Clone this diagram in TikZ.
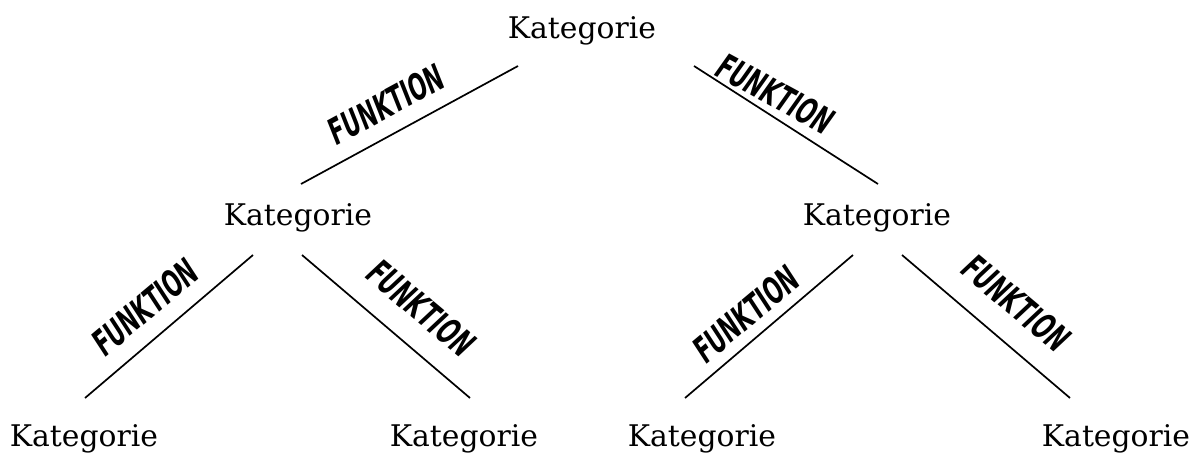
\documentclass[tikz,border=0pt]{standalone}
\usepackage{fontspec}
\setmainfont{DejaVu Serif}
\newfontfamily\funkfont{DejaVu Sans Bold}[FakeStretch=0.6,FakeSlant=0.12]
\begin{document}
\begin{tikzpicture}[x=1pt,y=-1pt,
  kat/.style={anchor=base,inner sep=0pt,font=\fontsize{29.8}{34}\selectfont},
  fun/.style={inner sep=0pt,font=\funkfont\fontsize{36}{38}\selectfont},
  conn/.style={line width=1.7pt}]
\useasboundingbox (0,0) rectangle (1193,455);
% nodes
\node[kat] (k0) at (582,38) {Kategorie};
\node[kat] (k1) at (298,225) {Kategorie};
\node[kat] (k2) at (877,225) {Kategorie};
\node[kat] (k3) at (84,446) {Kategorie};
\node[kat] (k4) at (464,446) {Kategorie};
\node[kat] (k5) at (702,446) {Kategorie};
\node[kat] (k6) at (1116,446) {Kategorie};
% line end points
\coordinate (a0) at (518,66);  \coordinate (a1) at (301,184);
\coordinate (b0) at (694,66);  \coordinate (b1) at (878,184);
\coordinate (c0) at (253,255); \coordinate (c1) at (85,398);
\coordinate (d0) at (302,255); \coordinate (d1) at (470,398);
\coordinate (e0) at (853,255); \coordinate (e1) at (685,398);
\coordinate (f0) at (902,255); \coordinate (f1) at (1070,398);
\draw[conn] (a0) -- (a1);
\draw[conn] (b0) -- (b1);
\draw[conn] (c0) -- (c1);
\draw[conn] (d0) -- (d1);
\draw[conn] (e0) -- (e1);
\draw[conn] (f0) -- (f1);
% labels
\node[fun,rotate=28.5] (l0) at (385,105) {FUNKTION};
\node[fun,rotate=-28.5] (l1) at (774,93) {FUNKTION};
\node[fun,rotate=40] (l2) at (144,308) {FUNKTION};
\node[fun,rotate=-40] (l3) at (420,307) {FUNKTION};
\node[fun,rotate=40] (l4) at (745,315) {FUNKTION};
\node[fun,rotate=-40] (l5) at (1015,302) {FUNKTION};
\end{tikzpicture}
\end{document}
